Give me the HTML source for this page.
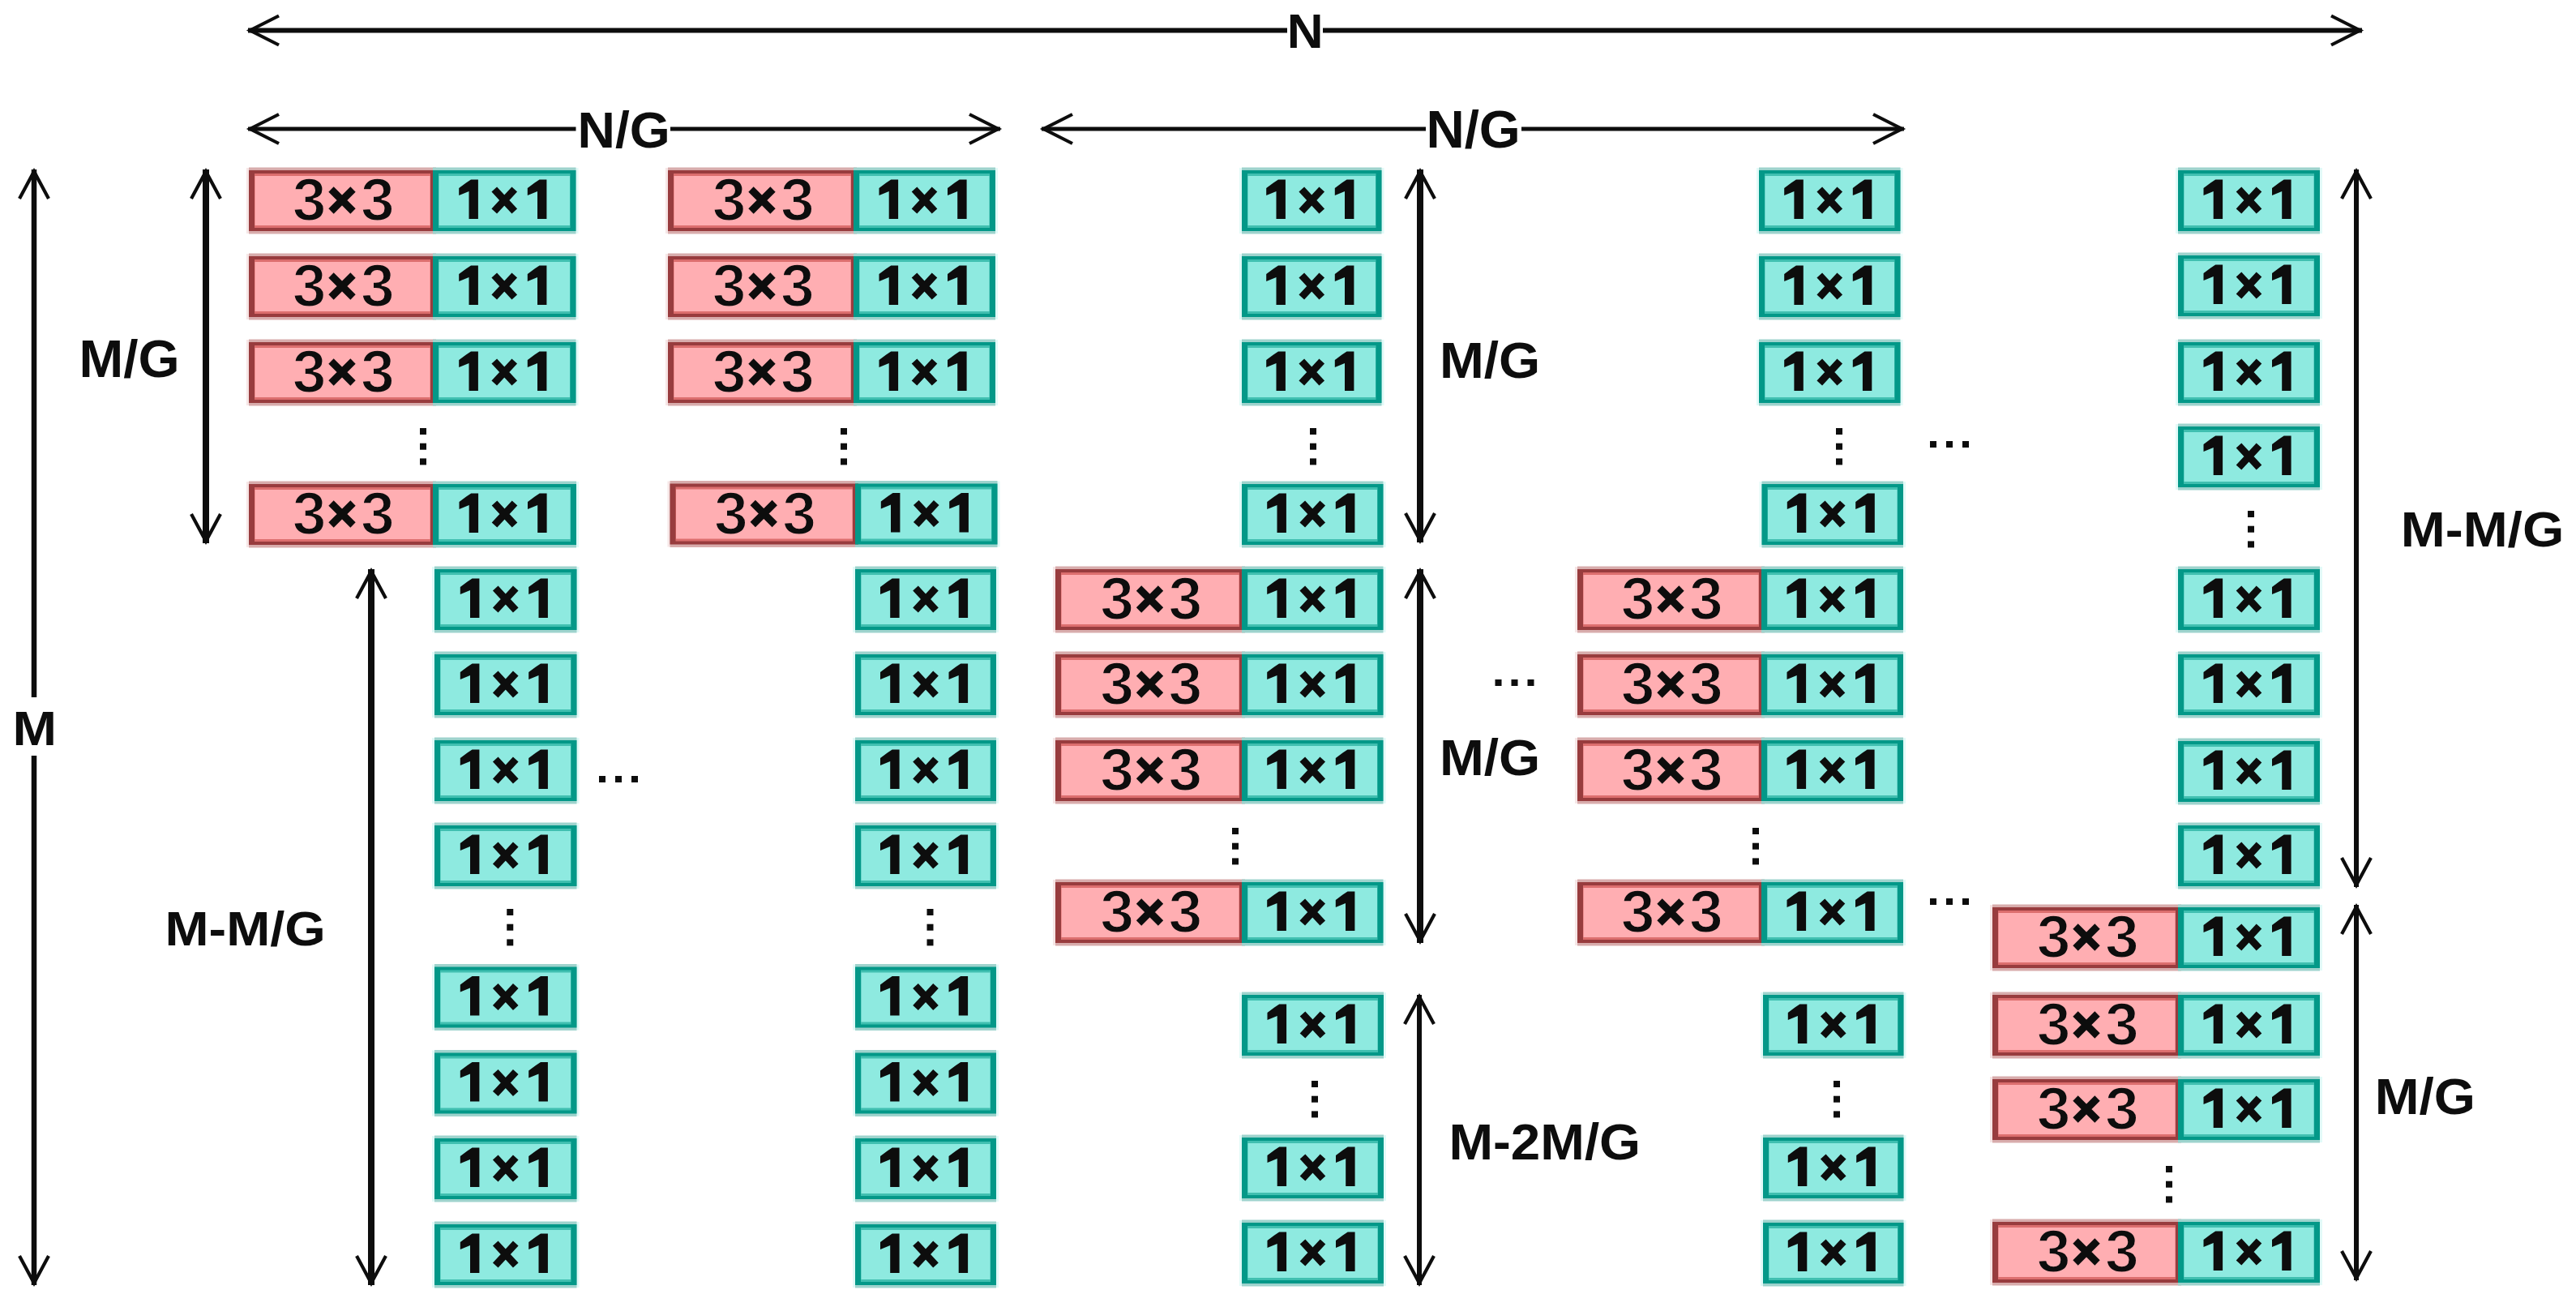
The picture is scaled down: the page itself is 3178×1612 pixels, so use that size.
<!DOCTYPE html>
<html><head><meta charset="utf-8"><style>
html,body{margin:0;padding:0;background:#fff;width:3178px;height:1612px;overflow:hidden}
svg{display:block}
.t{font-family:"Liberation Sans",sans-serif;font-weight:bold}
</style></head><body>
<svg width="3178" height="1612" viewBox="0 0 3178 1612">
<rect width="3178" height="1612" fill="#fff"/>
<rect x="304" y="207" width="237" height="81" fill="#F6E6E6"/>
<rect x="531" y="207" width="182.5" height="81" fill="#E2FAF8"/>
<rect x="304" y="313" width="237" height="81" fill="#F6E6E6"/>
<rect x="531" y="313" width="182.5" height="81" fill="#E2FAF8"/>
<rect x="304" y="419" width="237" height="81" fill="#F6E6E6"/>
<rect x="531" y="419" width="182.5" height="81" fill="#E2FAF8"/>
<rect x="304" y="594" width="237" height="81" fill="#F6E6E6"/>
<rect x="531" y="594" width="183" height="81" fill="#E2FAF8"/>
<rect x="533" y="699" width="181.5" height="81" fill="#E2FAF8"/>
<rect x="533" y="804" width="181.5" height="81" fill="#E2FAF8"/>
<rect x="533" y="910" width="181.5" height="81" fill="#E2FAF8"/>
<rect x="533" y="1015" width="181.5" height="81" fill="#E2FAF8"/>
<rect x="533" y="1189.5" width="181.5" height="81" fill="#E2FAF8"/>
<rect x="533" y="1295.5" width="181.5" height="81" fill="#E2FAF8"/>
<rect x="533" y="1401" width="181.5" height="81" fill="#E2FAF8"/>
<rect x="533" y="1507" width="181.5" height="81" fill="#E2FAF8"/>
<rect x="821" y="207" width="239" height="81" fill="#F6E6E6"/>
<rect x="1050" y="207" width="181" height="81" fill="#E2FAF8"/>
<rect x="821" y="313" width="239" height="81" fill="#F6E6E6"/>
<rect x="1050" y="313" width="181" height="81" fill="#E2FAF8"/>
<rect x="821" y="419" width="239" height="81" fill="#F6E6E6"/>
<rect x="1050" y="419" width="181" height="81" fill="#E2FAF8"/>
<rect x="823.5" y="593.5" width="238.5" height="81" fill="#F6E6E6"/>
<rect x="1052" y="593.5" width="181.5" height="81" fill="#E2FAF8"/>
<rect x="1052" y="699" width="180" height="81" fill="#E2FAF8"/>
<rect x="1052" y="804" width="180" height="81" fill="#E2FAF8"/>
<rect x="1052" y="910" width="180" height="81" fill="#E2FAF8"/>
<rect x="1052" y="1015" width="180" height="81" fill="#E2FAF8"/>
<rect x="1052" y="1189.5" width="180" height="81" fill="#E2FAF8"/>
<rect x="1052" y="1295.5" width="180" height="81" fill="#E2FAF8"/>
<rect x="1052" y="1401" width="180" height="81" fill="#E2FAF8"/>
<rect x="1052" y="1507" width="180" height="81" fill="#E2FAF8"/>
<rect x="1529" y="207" width="178.5" height="81" fill="#E2FAF8"/>
<rect x="1529" y="313" width="178.5" height="81" fill="#E2FAF8"/>
<rect x="1529" y="419" width="178.5" height="81" fill="#E2FAF8"/>
<rect x="1529" y="594" width="180.5" height="81" fill="#E2FAF8"/>
<rect x="1299" y="699" width="240" height="81" fill="#F6E6E6"/>
<rect x="1529" y="699" width="180.5" height="81" fill="#E2FAF8"/>
<rect x="1299" y="804" width="240" height="81" fill="#F6E6E6"/>
<rect x="1529" y="804" width="180.5" height="81" fill="#E2FAF8"/>
<rect x="1299" y="910" width="240" height="81" fill="#F6E6E6"/>
<rect x="1529" y="910" width="180.5" height="81" fill="#E2FAF8"/>
<rect x="1299" y="1085" width="240" height="81" fill="#F6E6E6"/>
<rect x="1529" y="1085" width="180.5" height="81" fill="#E2FAF8"/>
<rect x="1529" y="1224" width="181" height="81" fill="#E2FAF8"/>
<rect x="1529" y="1400" width="181" height="81" fill="#E2FAF8"/>
<rect x="1529" y="1505" width="181" height="81" fill="#E2FAF8"/>
<rect x="2167" y="207" width="180.5" height="81" fill="#E2FAF8"/>
<rect x="2167" y="313" width="180.5" height="81" fill="#E2FAF8"/>
<rect x="2167" y="419" width="180.5" height="81" fill="#E2FAF8"/>
<rect x="2170.5" y="594" width="180.5" height="81" fill="#E2FAF8"/>
<rect x="1943" y="699" width="237" height="81" fill="#F6E6E6"/>
<rect x="2170" y="699" width="181" height="81" fill="#E2FAF8"/>
<rect x="1943" y="804" width="237" height="81" fill="#F6E6E6"/>
<rect x="2170" y="804" width="181" height="81" fill="#E2FAF8"/>
<rect x="1943" y="910" width="237" height="81" fill="#F6E6E6"/>
<rect x="2170" y="910" width="181" height="81" fill="#E2FAF8"/>
<rect x="1943" y="1085" width="237" height="81" fill="#F6E6E6"/>
<rect x="2170" y="1085" width="181" height="81" fill="#E2FAF8"/>
<rect x="2172" y="1224" width="179.5" height="81" fill="#E2FAF8"/>
<rect x="2172" y="1400" width="179.5" height="81" fill="#E2FAF8"/>
<rect x="2172" y="1505" width="179.5" height="81" fill="#E2FAF8"/>
<rect x="2684" y="207" width="181" height="81" fill="#E2FAF8"/>
<rect x="2684" y="312" width="181" height="81" fill="#E2FAF8"/>
<rect x="2684" y="419" width="181" height="81" fill="#E2FAF8"/>
<rect x="2684" y="523" width="181" height="81" fill="#E2FAF8"/>
<rect x="2684" y="699" width="181" height="81" fill="#E2FAF8"/>
<rect x="2684" y="804" width="181" height="81" fill="#E2FAF8"/>
<rect x="2684" y="911" width="181" height="81" fill="#E2FAF8"/>
<rect x="2684" y="1015" width="181" height="81" fill="#E2FAF8"/>
<rect x="2455" y="1116" width="239" height="81" fill="#F6E6E6"/>
<rect x="2684" y="1116" width="181" height="81" fill="#E2FAF8"/>
<rect x="2455" y="1224" width="239" height="81" fill="#F6E6E6"/>
<rect x="2684" y="1224" width="181" height="81" fill="#E2FAF8"/>
<rect x="2455" y="1328" width="239" height="81" fill="#F6E6E6"/>
<rect x="2684" y="1328" width="181" height="81" fill="#E2FAF8"/>
<rect x="2455" y="1504" width="239" height="81" fill="#F6E6E6"/>
<rect x="2684" y="1504" width="181" height="81" fill="#E2FAF8"/>
<rect x="307" y="206.5" width="231" height="82" fill="#D8ACAC"/>
<rect x="534" y="206.5" width="176.5" height="82" fill="#9ED3CD"/>
<rect x="307" y="312.5" width="231" height="82" fill="#D8ACAC"/>
<rect x="534" y="312.5" width="176.5" height="82" fill="#9ED3CD"/>
<rect x="307" y="418.5" width="231" height="82" fill="#D8ACAC"/>
<rect x="534" y="418.5" width="176.5" height="82" fill="#9ED3CD"/>
<rect x="307" y="593.5" width="231" height="82" fill="#D8ACAC"/>
<rect x="534" y="593.5" width="177" height="82" fill="#9ED3CD"/>
<rect x="536" y="698.5" width="175.5" height="82" fill="#9ED3CD"/>
<rect x="536" y="803.5" width="175.5" height="82" fill="#9ED3CD"/>
<rect x="536" y="909.5" width="175.5" height="82" fill="#9ED3CD"/>
<rect x="536" y="1014.5" width="175.5" height="82" fill="#9ED3CD"/>
<rect x="536" y="1189.0" width="175.5" height="82" fill="#9ED3CD"/>
<rect x="536" y="1295.0" width="175.5" height="82" fill="#9ED3CD"/>
<rect x="536" y="1400.5" width="175.5" height="82" fill="#9ED3CD"/>
<rect x="536" y="1506.5" width="175.5" height="82" fill="#9ED3CD"/>
<rect x="824" y="206.5" width="233" height="82" fill="#D8ACAC"/>
<rect x="1053" y="206.5" width="175" height="82" fill="#9ED3CD"/>
<rect x="824" y="312.5" width="233" height="82" fill="#D8ACAC"/>
<rect x="1053" y="312.5" width="175" height="82" fill="#9ED3CD"/>
<rect x="824" y="418.5" width="233" height="82" fill="#D8ACAC"/>
<rect x="1053" y="418.5" width="175" height="82" fill="#9ED3CD"/>
<rect x="826.5" y="593.0" width="232.5" height="82" fill="#D8ACAC"/>
<rect x="1055" y="593.0" width="175.5" height="82" fill="#9ED3CD"/>
<rect x="1055" y="698.5" width="174" height="82" fill="#9ED3CD"/>
<rect x="1055" y="803.5" width="174" height="82" fill="#9ED3CD"/>
<rect x="1055" y="909.5" width="174" height="82" fill="#9ED3CD"/>
<rect x="1055" y="1014.5" width="174" height="82" fill="#9ED3CD"/>
<rect x="1055" y="1189.0" width="174" height="82" fill="#9ED3CD"/>
<rect x="1055" y="1295.0" width="174" height="82" fill="#9ED3CD"/>
<rect x="1055" y="1400.5" width="174" height="82" fill="#9ED3CD"/>
<rect x="1055" y="1506.5" width="174" height="82" fill="#9ED3CD"/>
<rect x="1532" y="206.5" width="172.5" height="82" fill="#9ED3CD"/>
<rect x="1532" y="312.5" width="172.5" height="82" fill="#9ED3CD"/>
<rect x="1532" y="418.5" width="172.5" height="82" fill="#9ED3CD"/>
<rect x="1532" y="593.5" width="174.5" height="82" fill="#9ED3CD"/>
<rect x="1302" y="698.5" width="234" height="82" fill="#D8ACAC"/>
<rect x="1532" y="698.5" width="174.5" height="82" fill="#9ED3CD"/>
<rect x="1302" y="803.5" width="234" height="82" fill="#D8ACAC"/>
<rect x="1532" y="803.5" width="174.5" height="82" fill="#9ED3CD"/>
<rect x="1302" y="909.5" width="234" height="82" fill="#D8ACAC"/>
<rect x="1532" y="909.5" width="174.5" height="82" fill="#9ED3CD"/>
<rect x="1302" y="1084.5" width="234" height="82" fill="#D8ACAC"/>
<rect x="1532" y="1084.5" width="174.5" height="82" fill="#9ED3CD"/>
<rect x="1532" y="1223.5" width="175" height="82" fill="#9ED3CD"/>
<rect x="1532" y="1399.5" width="175" height="82" fill="#9ED3CD"/>
<rect x="1532" y="1504.5" width="175" height="82" fill="#9ED3CD"/>
<rect x="2170" y="206.5" width="174.5" height="82" fill="#9ED3CD"/>
<rect x="2170" y="312.5" width="174.5" height="82" fill="#9ED3CD"/>
<rect x="2170" y="418.5" width="174.5" height="82" fill="#9ED3CD"/>
<rect x="2173.5" y="593.5" width="174.5" height="82" fill="#9ED3CD"/>
<rect x="1946" y="698.5" width="231" height="82" fill="#D8ACAC"/>
<rect x="2173" y="698.5" width="175" height="82" fill="#9ED3CD"/>
<rect x="1946" y="803.5" width="231" height="82" fill="#D8ACAC"/>
<rect x="2173" y="803.5" width="175" height="82" fill="#9ED3CD"/>
<rect x="1946" y="909.5" width="231" height="82" fill="#D8ACAC"/>
<rect x="2173" y="909.5" width="175" height="82" fill="#9ED3CD"/>
<rect x="1946" y="1084.5" width="231" height="82" fill="#D8ACAC"/>
<rect x="2173" y="1084.5" width="175" height="82" fill="#9ED3CD"/>
<rect x="2175" y="1223.5" width="173.5" height="82" fill="#9ED3CD"/>
<rect x="2175" y="1399.5" width="173.5" height="82" fill="#9ED3CD"/>
<rect x="2175" y="1504.5" width="173.5" height="82" fill="#9ED3CD"/>
<rect x="2687" y="206.5" width="175" height="82" fill="#9ED3CD"/>
<rect x="2687" y="311.5" width="175" height="82" fill="#9ED3CD"/>
<rect x="2687" y="418.5" width="175" height="82" fill="#9ED3CD"/>
<rect x="2687" y="522.5" width="175" height="82" fill="#9ED3CD"/>
<rect x="2687" y="698.5" width="175" height="82" fill="#9ED3CD"/>
<rect x="2687" y="803.5" width="175" height="82" fill="#9ED3CD"/>
<rect x="2687" y="910.5" width="175" height="82" fill="#9ED3CD"/>
<rect x="2687" y="1014.5" width="175" height="82" fill="#9ED3CD"/>
<rect x="2458" y="1115.5" width="233" height="82" fill="#D8ACAC"/>
<rect x="2687" y="1115.5" width="175" height="82" fill="#9ED3CD"/>
<rect x="2458" y="1223.5" width="233" height="82" fill="#D8ACAC"/>
<rect x="2687" y="1223.5" width="175" height="82" fill="#9ED3CD"/>
<rect x="2458" y="1327.5" width="233" height="82" fill="#D8ACAC"/>
<rect x="2687" y="1327.5" width="175" height="82" fill="#9ED3CD"/>
<rect x="2458" y="1503.5" width="233" height="82" fill="#D8ACAC"/>
<rect x="2687" y="1503.5" width="175" height="82" fill="#9ED3CD"/>
<rect x="307" y="210" width="231" height="75" fill="#983C3E"/>
<rect x="314" y="214" width="217" height="67" fill="#DC6E6E"/>
<rect x="314.5" y="217" width="216" height="61" fill="#FFAEB2"/>
<rect x="307" y="316" width="231" height="75" fill="#983C3E"/>
<rect x="314" y="320" width="217" height="67" fill="#DC6E6E"/>
<rect x="314.5" y="323" width="216" height="61" fill="#FFAEB2"/>
<rect x="307" y="422" width="231" height="75" fill="#983C3E"/>
<rect x="314" y="426" width="217" height="67" fill="#DC6E6E"/>
<rect x="314.5" y="429" width="216" height="61" fill="#FFAEB2"/>
<rect x="307" y="597" width="231" height="75" fill="#983C3E"/>
<rect x="314" y="601" width="217" height="67" fill="#DC6E6E"/>
<rect x="314.5" y="604" width="216" height="61" fill="#FFAEB2"/>
<rect x="824" y="210" width="233" height="75" fill="#983C3E"/>
<rect x="831" y="214" width="219" height="67" fill="#DC6E6E"/>
<rect x="831.5" y="217" width="218" height="61" fill="#FFAEB2"/>
<rect x="824" y="316" width="233" height="75" fill="#983C3E"/>
<rect x="831" y="320" width="219" height="67" fill="#DC6E6E"/>
<rect x="831.5" y="323" width="218" height="61" fill="#FFAEB2"/>
<rect x="824" y="422" width="233" height="75" fill="#983C3E"/>
<rect x="831" y="426" width="219" height="67" fill="#DC6E6E"/>
<rect x="831.5" y="429" width="218" height="61" fill="#FFAEB2"/>
<rect x="826.5" y="596.5" width="232.5" height="75" fill="#983C3E"/>
<rect x="833.5" y="600.5" width="218.5" height="67" fill="#DC6E6E"/>
<rect x="834.0" y="603.5" width="217.5" height="61" fill="#FFAEB2"/>
<rect x="1302" y="702" width="234" height="75" fill="#983C3E"/>
<rect x="1309" y="706" width="220" height="67" fill="#DC6E6E"/>
<rect x="1309.5" y="709" width="219" height="61" fill="#FFAEB2"/>
<rect x="1302" y="807" width="234" height="75" fill="#983C3E"/>
<rect x="1309" y="811" width="220" height="67" fill="#DC6E6E"/>
<rect x="1309.5" y="814" width="219" height="61" fill="#FFAEB2"/>
<rect x="1302" y="913" width="234" height="75" fill="#983C3E"/>
<rect x="1309" y="917" width="220" height="67" fill="#DC6E6E"/>
<rect x="1309.5" y="920" width="219" height="61" fill="#FFAEB2"/>
<rect x="1302" y="1088" width="234" height="75" fill="#983C3E"/>
<rect x="1309" y="1092" width="220" height="67" fill="#DC6E6E"/>
<rect x="1309.5" y="1095" width="219" height="61" fill="#FFAEB2"/>
<rect x="1946" y="702" width="231" height="75" fill="#983C3E"/>
<rect x="1953" y="706" width="217" height="67" fill="#DC6E6E"/>
<rect x="1953.5" y="709" width="216" height="61" fill="#FFAEB2"/>
<rect x="1946" y="807" width="231" height="75" fill="#983C3E"/>
<rect x="1953" y="811" width="217" height="67" fill="#DC6E6E"/>
<rect x="1953.5" y="814" width="216" height="61" fill="#FFAEB2"/>
<rect x="1946" y="913" width="231" height="75" fill="#983C3E"/>
<rect x="1953" y="917" width="217" height="67" fill="#DC6E6E"/>
<rect x="1953.5" y="920" width="216" height="61" fill="#FFAEB2"/>
<rect x="1946" y="1088" width="231" height="75" fill="#983C3E"/>
<rect x="1953" y="1092" width="217" height="67" fill="#DC6E6E"/>
<rect x="1953.5" y="1095" width="216" height="61" fill="#FFAEB2"/>
<rect x="2458" y="1119" width="233" height="75" fill="#983C3E"/>
<rect x="2465" y="1123" width="219" height="67" fill="#DC6E6E"/>
<rect x="2465.5" y="1126" width="218" height="61" fill="#FFAEB2"/>
<rect x="2458" y="1227" width="233" height="75" fill="#983C3E"/>
<rect x="2465" y="1231" width="219" height="67" fill="#DC6E6E"/>
<rect x="2465.5" y="1234" width="218" height="61" fill="#FFAEB2"/>
<rect x="2458" y="1331" width="233" height="75" fill="#983C3E"/>
<rect x="2465" y="1335" width="219" height="67" fill="#DC6E6E"/>
<rect x="2465.5" y="1338" width="218" height="61" fill="#FFAEB2"/>
<rect x="2458" y="1507" width="233" height="75" fill="#983C3E"/>
<rect x="2465" y="1511" width="219" height="67" fill="#DC6E6E"/>
<rect x="2465.5" y="1514" width="218" height="61" fill="#FFAEB2"/>
<rect x="534" y="210" width="176.5" height="75" fill="#039888"/>
<rect x="541" y="214" width="162.5" height="67" fill="#40BFB0"/>
<rect x="541.5" y="217" width="161.5" height="61" fill="#8EEAE0"/>
<rect x="534" y="316" width="176.5" height="75" fill="#039888"/>
<rect x="541" y="320" width="162.5" height="67" fill="#40BFB0"/>
<rect x="541.5" y="323" width="161.5" height="61" fill="#8EEAE0"/>
<rect x="534" y="422" width="176.5" height="75" fill="#039888"/>
<rect x="541" y="426" width="162.5" height="67" fill="#40BFB0"/>
<rect x="541.5" y="429" width="161.5" height="61" fill="#8EEAE0"/>
<rect x="534" y="597" width="177" height="75" fill="#039888"/>
<rect x="541" y="601" width="163" height="67" fill="#40BFB0"/>
<rect x="541.5" y="604" width="162" height="61" fill="#8EEAE0"/>
<rect x="536" y="702" width="175.5" height="75" fill="#039888"/>
<rect x="543" y="706" width="161.5" height="67" fill="#40BFB0"/>
<rect x="543.5" y="709" width="160.5" height="61" fill="#8EEAE0"/>
<rect x="536" y="807" width="175.5" height="75" fill="#039888"/>
<rect x="543" y="811" width="161.5" height="67" fill="#40BFB0"/>
<rect x="543.5" y="814" width="160.5" height="61" fill="#8EEAE0"/>
<rect x="536" y="913" width="175.5" height="75" fill="#039888"/>
<rect x="543" y="917" width="161.5" height="67" fill="#40BFB0"/>
<rect x="543.5" y="920" width="160.5" height="61" fill="#8EEAE0"/>
<rect x="536" y="1018" width="175.5" height="75" fill="#039888"/>
<rect x="543" y="1022" width="161.5" height="67" fill="#40BFB0"/>
<rect x="543.5" y="1025" width="160.5" height="61" fill="#8EEAE0"/>
<rect x="536" y="1192.5" width="175.5" height="75" fill="#039888"/>
<rect x="543" y="1196.5" width="161.5" height="67" fill="#40BFB0"/>
<rect x="543.5" y="1199.5" width="160.5" height="61" fill="#8EEAE0"/>
<rect x="536" y="1298.5" width="175.5" height="75" fill="#039888"/>
<rect x="543" y="1302.5" width="161.5" height="67" fill="#40BFB0"/>
<rect x="543.5" y="1305.5" width="160.5" height="61" fill="#8EEAE0"/>
<rect x="536" y="1404" width="175.5" height="75" fill="#039888"/>
<rect x="543" y="1408" width="161.5" height="67" fill="#40BFB0"/>
<rect x="543.5" y="1411" width="160.5" height="61" fill="#8EEAE0"/>
<rect x="536" y="1510" width="175.5" height="75" fill="#039888"/>
<rect x="543" y="1514" width="161.5" height="67" fill="#40BFB0"/>
<rect x="543.5" y="1517" width="160.5" height="61" fill="#8EEAE0"/>
<rect x="1053" y="210" width="175" height="75" fill="#039888"/>
<rect x="1060" y="214" width="161" height="67" fill="#40BFB0"/>
<rect x="1060.5" y="217" width="160" height="61" fill="#8EEAE0"/>
<rect x="1053" y="316" width="175" height="75" fill="#039888"/>
<rect x="1060" y="320" width="161" height="67" fill="#40BFB0"/>
<rect x="1060.5" y="323" width="160" height="61" fill="#8EEAE0"/>
<rect x="1053" y="422" width="175" height="75" fill="#039888"/>
<rect x="1060" y="426" width="161" height="67" fill="#40BFB0"/>
<rect x="1060.5" y="429" width="160" height="61" fill="#8EEAE0"/>
<rect x="1055" y="596.5" width="175.5" height="75" fill="#039888"/>
<rect x="1062" y="600.5" width="161.5" height="67" fill="#40BFB0"/>
<rect x="1062.5" y="603.5" width="160.5" height="61" fill="#8EEAE0"/>
<rect x="1055" y="702" width="174" height="75" fill="#039888"/>
<rect x="1062" y="706" width="160" height="67" fill="#40BFB0"/>
<rect x="1062.5" y="709" width="159" height="61" fill="#8EEAE0"/>
<rect x="1055" y="807" width="174" height="75" fill="#039888"/>
<rect x="1062" y="811" width="160" height="67" fill="#40BFB0"/>
<rect x="1062.5" y="814" width="159" height="61" fill="#8EEAE0"/>
<rect x="1055" y="913" width="174" height="75" fill="#039888"/>
<rect x="1062" y="917" width="160" height="67" fill="#40BFB0"/>
<rect x="1062.5" y="920" width="159" height="61" fill="#8EEAE0"/>
<rect x="1055" y="1018" width="174" height="75" fill="#039888"/>
<rect x="1062" y="1022" width="160" height="67" fill="#40BFB0"/>
<rect x="1062.5" y="1025" width="159" height="61" fill="#8EEAE0"/>
<rect x="1055" y="1192.5" width="174" height="75" fill="#039888"/>
<rect x="1062" y="1196.5" width="160" height="67" fill="#40BFB0"/>
<rect x="1062.5" y="1199.5" width="159" height="61" fill="#8EEAE0"/>
<rect x="1055" y="1298.5" width="174" height="75" fill="#039888"/>
<rect x="1062" y="1302.5" width="160" height="67" fill="#40BFB0"/>
<rect x="1062.5" y="1305.5" width="159" height="61" fill="#8EEAE0"/>
<rect x="1055" y="1404" width="174" height="75" fill="#039888"/>
<rect x="1062" y="1408" width="160" height="67" fill="#40BFB0"/>
<rect x="1062.5" y="1411" width="159" height="61" fill="#8EEAE0"/>
<rect x="1055" y="1510" width="174" height="75" fill="#039888"/>
<rect x="1062" y="1514" width="160" height="67" fill="#40BFB0"/>
<rect x="1062.5" y="1517" width="159" height="61" fill="#8EEAE0"/>
<rect x="1532" y="210" width="172.5" height="75" fill="#039888"/>
<rect x="1539" y="214" width="158.5" height="67" fill="#40BFB0"/>
<rect x="1539.5" y="217" width="157.5" height="61" fill="#8EEAE0"/>
<rect x="1532" y="316" width="172.5" height="75" fill="#039888"/>
<rect x="1539" y="320" width="158.5" height="67" fill="#40BFB0"/>
<rect x="1539.5" y="323" width="157.5" height="61" fill="#8EEAE0"/>
<rect x="1532" y="422" width="172.5" height="75" fill="#039888"/>
<rect x="1539" y="426" width="158.5" height="67" fill="#40BFB0"/>
<rect x="1539.5" y="429" width="157.5" height="61" fill="#8EEAE0"/>
<rect x="1532" y="597" width="174.5" height="75" fill="#039888"/>
<rect x="1539" y="601" width="160.5" height="67" fill="#40BFB0"/>
<rect x="1539.5" y="604" width="159.5" height="61" fill="#8EEAE0"/>
<rect x="1532" y="702" width="174.5" height="75" fill="#039888"/>
<rect x="1539" y="706" width="160.5" height="67" fill="#40BFB0"/>
<rect x="1539.5" y="709" width="159.5" height="61" fill="#8EEAE0"/>
<rect x="1532" y="807" width="174.5" height="75" fill="#039888"/>
<rect x="1539" y="811" width="160.5" height="67" fill="#40BFB0"/>
<rect x="1539.5" y="814" width="159.5" height="61" fill="#8EEAE0"/>
<rect x="1532" y="913" width="174.5" height="75" fill="#039888"/>
<rect x="1539" y="917" width="160.5" height="67" fill="#40BFB0"/>
<rect x="1539.5" y="920" width="159.5" height="61" fill="#8EEAE0"/>
<rect x="1532" y="1088" width="174.5" height="75" fill="#039888"/>
<rect x="1539" y="1092" width="160.5" height="67" fill="#40BFB0"/>
<rect x="1539.5" y="1095" width="159.5" height="61" fill="#8EEAE0"/>
<rect x="1532" y="1227" width="175" height="75" fill="#039888"/>
<rect x="1539" y="1231" width="161" height="67" fill="#40BFB0"/>
<rect x="1539.5" y="1234" width="160" height="61" fill="#8EEAE0"/>
<rect x="1532" y="1403" width="175" height="75" fill="#039888"/>
<rect x="1539" y="1407" width="161" height="67" fill="#40BFB0"/>
<rect x="1539.5" y="1410" width="160" height="61" fill="#8EEAE0"/>
<rect x="1532" y="1508" width="175" height="75" fill="#039888"/>
<rect x="1539" y="1512" width="161" height="67" fill="#40BFB0"/>
<rect x="1539.5" y="1515" width="160" height="61" fill="#8EEAE0"/>
<rect x="2170" y="210" width="174.5" height="75" fill="#039888"/>
<rect x="2177" y="214" width="160.5" height="67" fill="#40BFB0"/>
<rect x="2177.5" y="217" width="159.5" height="61" fill="#8EEAE0"/>
<rect x="2170" y="316" width="174.5" height="75" fill="#039888"/>
<rect x="2177" y="320" width="160.5" height="67" fill="#40BFB0"/>
<rect x="2177.5" y="323" width="159.5" height="61" fill="#8EEAE0"/>
<rect x="2170" y="422" width="174.5" height="75" fill="#039888"/>
<rect x="2177" y="426" width="160.5" height="67" fill="#40BFB0"/>
<rect x="2177.5" y="429" width="159.5" height="61" fill="#8EEAE0"/>
<rect x="2173.5" y="597" width="174.5" height="75" fill="#039888"/>
<rect x="2180.5" y="601" width="160.5" height="67" fill="#40BFB0"/>
<rect x="2181.0" y="604" width="159.5" height="61" fill="#8EEAE0"/>
<rect x="2173" y="702" width="175" height="75" fill="#039888"/>
<rect x="2180" y="706" width="161" height="67" fill="#40BFB0"/>
<rect x="2180.5" y="709" width="160" height="61" fill="#8EEAE0"/>
<rect x="2173" y="807" width="175" height="75" fill="#039888"/>
<rect x="2180" y="811" width="161" height="67" fill="#40BFB0"/>
<rect x="2180.5" y="814" width="160" height="61" fill="#8EEAE0"/>
<rect x="2173" y="913" width="175" height="75" fill="#039888"/>
<rect x="2180" y="917" width="161" height="67" fill="#40BFB0"/>
<rect x="2180.5" y="920" width="160" height="61" fill="#8EEAE0"/>
<rect x="2173" y="1088" width="175" height="75" fill="#039888"/>
<rect x="2180" y="1092" width="161" height="67" fill="#40BFB0"/>
<rect x="2180.5" y="1095" width="160" height="61" fill="#8EEAE0"/>
<rect x="2175" y="1227" width="173.5" height="75" fill="#039888"/>
<rect x="2182" y="1231" width="159.5" height="67" fill="#40BFB0"/>
<rect x="2182.5" y="1234" width="158.5" height="61" fill="#8EEAE0"/>
<rect x="2175" y="1403" width="173.5" height="75" fill="#039888"/>
<rect x="2182" y="1407" width="159.5" height="67" fill="#40BFB0"/>
<rect x="2182.5" y="1410" width="158.5" height="61" fill="#8EEAE0"/>
<rect x="2175" y="1508" width="173.5" height="75" fill="#039888"/>
<rect x="2182" y="1512" width="159.5" height="67" fill="#40BFB0"/>
<rect x="2182.5" y="1515" width="158.5" height="61" fill="#8EEAE0"/>
<rect x="2687" y="210" width="175" height="75" fill="#039888"/>
<rect x="2694" y="214" width="161" height="67" fill="#40BFB0"/>
<rect x="2694.5" y="217" width="160" height="61" fill="#8EEAE0"/>
<rect x="2687" y="315" width="175" height="75" fill="#039888"/>
<rect x="2694" y="319" width="161" height="67" fill="#40BFB0"/>
<rect x="2694.5" y="322" width="160" height="61" fill="#8EEAE0"/>
<rect x="2687" y="422" width="175" height="75" fill="#039888"/>
<rect x="2694" y="426" width="161" height="67" fill="#40BFB0"/>
<rect x="2694.5" y="429" width="160" height="61" fill="#8EEAE0"/>
<rect x="2687" y="526" width="175" height="75" fill="#039888"/>
<rect x="2694" y="530" width="161" height="67" fill="#40BFB0"/>
<rect x="2694.5" y="533" width="160" height="61" fill="#8EEAE0"/>
<rect x="2687" y="702" width="175" height="75" fill="#039888"/>
<rect x="2694" y="706" width="161" height="67" fill="#40BFB0"/>
<rect x="2694.5" y="709" width="160" height="61" fill="#8EEAE0"/>
<rect x="2687" y="807" width="175" height="75" fill="#039888"/>
<rect x="2694" y="811" width="161" height="67" fill="#40BFB0"/>
<rect x="2694.5" y="814" width="160" height="61" fill="#8EEAE0"/>
<rect x="2687" y="914" width="175" height="75" fill="#039888"/>
<rect x="2694" y="918" width="161" height="67" fill="#40BFB0"/>
<rect x="2694.5" y="921" width="160" height="61" fill="#8EEAE0"/>
<rect x="2687" y="1018" width="175" height="75" fill="#039888"/>
<rect x="2694" y="1022" width="161" height="67" fill="#40BFB0"/>
<rect x="2694.5" y="1025" width="160" height="61" fill="#8EEAE0"/>
<rect x="2687" y="1119" width="175" height="75" fill="#039888"/>
<rect x="2694" y="1123" width="161" height="67" fill="#40BFB0"/>
<rect x="2694.5" y="1126" width="160" height="61" fill="#8EEAE0"/>
<rect x="2687" y="1227" width="175" height="75" fill="#039888"/>
<rect x="2694" y="1231" width="161" height="67" fill="#40BFB0"/>
<rect x="2694.5" y="1234" width="160" height="61" fill="#8EEAE0"/>
<rect x="2687" y="1331" width="175" height="75" fill="#039888"/>
<rect x="2694" y="1335" width="161" height="67" fill="#40BFB0"/>
<rect x="2694.5" y="1338" width="160" height="61" fill="#8EEAE0"/>
<rect x="2687" y="1507" width="175" height="75" fill="#039888"/>
<rect x="2694" y="1511" width="161" height="67" fill="#40BFB0"/>
<rect x="2694.5" y="1514" width="160" height="61" fill="#8EEAE0"/>
<g fill="#0d0d0d">
<text x="381.5" y="272.0" font-size="75" text-anchor="middle" class="t" stroke="#FFAEB2" stroke-width="2">3</text>
<text x="465.8" y="272.0" font-size="75" text-anchor="middle" class="t" stroke="#FFAEB2" stroke-width="2">3</text>
<path d="M408.5,233.5L435.5,260.5M435.5,233.5L408.5,260.5" stroke="#0d0d0d" stroke-width="9" fill="none"/>
<path d="M609.75,233.5L634.75,260.5M634.75,233.5L609.75,260.5" stroke="#0d0d0d" stroke-width="9" fill="none"/>
<polygon points="581.0,221.5 589.9,221.5 589.9,270.0 578.5,270.0 578.5,236.0 566.2,241.0 566.2,232.0 575.0,225.5"/>
<polygon points="665.5,221.5 674.4,221.5 674.4,270.0 663.0,270.0 663.0,236.0 650.8,241.0 650.8,232.0 659.5,225.5"/>
<text x="381.5" y="378.0" font-size="75" text-anchor="middle" class="t" stroke="#FFAEB2" stroke-width="2">3</text>
<text x="465.8" y="378.0" font-size="75" text-anchor="middle" class="t" stroke="#FFAEB2" stroke-width="2">3</text>
<path d="M408.5,339.5L435.5,366.5M435.5,339.5L408.5,366.5" stroke="#0d0d0d" stroke-width="9" fill="none"/>
<path d="M609.75,339.5L634.75,366.5M634.75,339.5L609.75,366.5" stroke="#0d0d0d" stroke-width="9" fill="none"/>
<polygon points="581.0,327.5 589.9,327.5 589.9,376.0 578.5,376.0 578.5,342.0 566.2,347.0 566.2,338.0 575.0,331.5"/>
<polygon points="665.5,327.5 674.4,327.5 674.4,376.0 663.0,376.0 663.0,342.0 650.8,347.0 650.8,338.0 659.5,331.5"/>
<text x="381.5" y="484.0" font-size="75" text-anchor="middle" class="t" stroke="#FFAEB2" stroke-width="2">3</text>
<text x="465.8" y="484.0" font-size="75" text-anchor="middle" class="t" stroke="#FFAEB2" stroke-width="2">3</text>
<path d="M408.5,445.5L435.5,472.5M435.5,445.5L408.5,472.5" stroke="#0d0d0d" stroke-width="9" fill="none"/>
<path d="M609.75,445.5L634.75,472.5M634.75,445.5L609.75,472.5" stroke="#0d0d0d" stroke-width="9" fill="none"/>
<polygon points="581.0,433.5 589.9,433.5 589.9,482.0 578.5,482.0 578.5,448.0 566.2,453.0 566.2,444.0 575.0,437.5"/>
<polygon points="665.5,433.5 674.4,433.5 674.4,482.0 663.0,482.0 663.0,448.0 650.8,453.0 650.8,444.0 659.5,437.5"/>
<text x="381.5" y="659.0" font-size="75" text-anchor="middle" class="t" stroke="#FFAEB2" stroke-width="2">3</text>
<text x="465.8" y="659.0" font-size="75" text-anchor="middle" class="t" stroke="#FFAEB2" stroke-width="2">3</text>
<path d="M408.5,620.5L435.5,647.5M435.5,620.5L408.5,647.5" stroke="#0d0d0d" stroke-width="9" fill="none"/>
<path d="M610.0,620.5L635.0,647.5M635.0,620.5L610.0,647.5" stroke="#0d0d0d" stroke-width="9" fill="none"/>
<polygon points="581.2,608.5 590.1,608.5 590.1,657.0 578.7,657.0 578.7,623.0 566.5,628.0 566.5,619.0 575.2,612.5"/>
<polygon points="665.7,608.5 674.6,608.5 674.6,657.0 663.2,657.0 663.2,623.0 651.0,628.0 651.0,619.0 659.7,612.5"/>
<rect x="518" y="528.0" width="8" height="8"/>
<rect x="518" y="546.7" width="8" height="8"/>
<rect x="518" y="565.4" width="8" height="8"/>
<path d="M611.25,725.5L636.25,752.5M636.25,725.5L611.25,752.5" stroke="#0d0d0d" stroke-width="9" fill="none"/>
<polygon points="582.5,713.5 591.4,713.5 591.4,762.0 580.0,762.0 580.0,728.0 567.8,733.0 567.8,724.0 576.5,717.5"/>
<polygon points="667.0,713.5 675.9,713.5 675.9,762.0 664.5,762.0 664.5,728.0 652.2,733.0 652.2,724.0 661.0,717.5"/>
<path d="M611.25,830.5L636.25,857.5M636.25,830.5L611.25,857.5" stroke="#0d0d0d" stroke-width="9" fill="none"/>
<polygon points="582.5,818.5 591.4,818.5 591.4,867.0 580.0,867.0 580.0,833.0 567.8,838.0 567.8,829.0 576.5,822.5"/>
<polygon points="667.0,818.5 675.9,818.5 675.9,867.0 664.5,867.0 664.5,833.0 652.2,838.0 652.2,829.0 661.0,822.5"/>
<path d="M611.25,936.5L636.25,963.5M636.25,936.5L611.25,963.5" stroke="#0d0d0d" stroke-width="9" fill="none"/>
<polygon points="582.5,924.5 591.4,924.5 591.4,973.0 580.0,973.0 580.0,939.0 567.8,944.0 567.8,935.0 576.5,928.5"/>
<polygon points="667.0,924.5 675.9,924.5 675.9,973.0 664.5,973.0 664.5,939.0 652.2,944.0 652.2,935.0 661.0,928.5"/>
<path d="M611.25,1041.5L636.25,1068.5M636.25,1041.5L611.25,1068.5" stroke="#0d0d0d" stroke-width="9" fill="none"/>
<polygon points="582.5,1029.5 591.4,1029.5 591.4,1078.0 580.0,1078.0 580.0,1044.0 567.8,1049.0 567.8,1040.0 576.5,1033.5"/>
<polygon points="667.0,1029.5 675.9,1029.5 675.9,1078.0 664.5,1078.0 664.5,1044.0 652.2,1049.0 652.2,1040.0 661.0,1033.5"/>
<path d="M611.25,1216.0L636.25,1243.0M636.25,1216.0L611.25,1243.0" stroke="#0d0d0d" stroke-width="9" fill="none"/>
<polygon points="582.5,1204.0 591.4,1204.0 591.4,1252.5 580.0,1252.5 580.0,1218.5 567.8,1223.5 567.8,1214.5 576.5,1208.0"/>
<polygon points="667.0,1204.0 675.9,1204.0 675.9,1252.5 664.5,1252.5 664.5,1218.5 652.2,1223.5 652.2,1214.5 661.0,1208.0"/>
<path d="M611.25,1322.0L636.25,1349.0M636.25,1322.0L611.25,1349.0" stroke="#0d0d0d" stroke-width="9" fill="none"/>
<polygon points="582.5,1310.0 591.4,1310.0 591.4,1358.5 580.0,1358.5 580.0,1324.5 567.8,1329.5 567.8,1320.5 576.5,1314.0"/>
<polygon points="667.0,1310.0 675.9,1310.0 675.9,1358.5 664.5,1358.5 664.5,1324.5 652.2,1329.5 652.2,1320.5 661.0,1314.0"/>
<path d="M611.25,1427.5L636.25,1454.5M636.25,1427.5L611.25,1454.5" stroke="#0d0d0d" stroke-width="9" fill="none"/>
<polygon points="582.5,1415.5 591.4,1415.5 591.4,1464.0 580.0,1464.0 580.0,1430.0 567.8,1435.0 567.8,1426.0 576.5,1419.5"/>
<polygon points="667.0,1415.5 675.9,1415.5 675.9,1464.0 664.5,1464.0 664.5,1430.0 652.2,1435.0 652.2,1426.0 661.0,1419.5"/>
<path d="M611.25,1533.5L636.25,1560.5M636.25,1533.5L611.25,1560.5" stroke="#0d0d0d" stroke-width="9" fill="none"/>
<polygon points="582.5,1521.5 591.4,1521.5 591.4,1570.0 580.0,1570.0 580.0,1536.0 567.8,1541.0 567.8,1532.0 576.5,1525.5"/>
<polygon points="667.0,1521.5 675.9,1521.5 675.9,1570.0 664.5,1570.0 664.5,1536.0 652.2,1541.0 652.2,1532.0 661.0,1525.5"/>
<rect x="625.25" y="1121.0" width="8" height="8"/>
<rect x="625.25" y="1139.7" width="8" height="8"/>
<rect x="625.25" y="1158.4" width="8" height="8"/>
<text x="899.5" y="272.0" font-size="75" text-anchor="middle" class="t" stroke="#FFAEB2" stroke-width="2">3</text>
<text x="983.8" y="272.0" font-size="75" text-anchor="middle" class="t" stroke="#FFAEB2" stroke-width="2">3</text>
<path d="M926.5,233.5L953.5,260.5M953.5,233.5L926.5,260.5" stroke="#0d0d0d" stroke-width="9" fill="none"/>
<path d="M1128.0,233.5L1153.0,260.5M1153.0,233.5L1128.0,260.5" stroke="#0d0d0d" stroke-width="9" fill="none"/>
<polygon points="1099.2,221.5 1108.1,221.5 1108.1,270.0 1096.7,270.0 1096.7,236.0 1084.5,241.0 1084.5,232.0 1093.2,225.5"/>
<polygon points="1183.7,221.5 1192.6,221.5 1192.6,270.0 1181.2,270.0 1181.2,236.0 1169.0,241.0 1169.0,232.0 1177.7,225.5"/>
<text x="899.5" y="378.0" font-size="75" text-anchor="middle" class="t" stroke="#FFAEB2" stroke-width="2">3</text>
<text x="983.8" y="378.0" font-size="75" text-anchor="middle" class="t" stroke="#FFAEB2" stroke-width="2">3</text>
<path d="M926.5,339.5L953.5,366.5M953.5,339.5L926.5,366.5" stroke="#0d0d0d" stroke-width="9" fill="none"/>
<path d="M1128.0,339.5L1153.0,366.5M1153.0,339.5L1128.0,366.5" stroke="#0d0d0d" stroke-width="9" fill="none"/>
<polygon points="1099.2,327.5 1108.1,327.5 1108.1,376.0 1096.7,376.0 1096.7,342.0 1084.5,347.0 1084.5,338.0 1093.2,331.5"/>
<polygon points="1183.7,327.5 1192.6,327.5 1192.6,376.0 1181.2,376.0 1181.2,342.0 1169.0,347.0 1169.0,338.0 1177.7,331.5"/>
<text x="899.5" y="484.0" font-size="75" text-anchor="middle" class="t" stroke="#FFAEB2" stroke-width="2">3</text>
<text x="983.8" y="484.0" font-size="75" text-anchor="middle" class="t" stroke="#FFAEB2" stroke-width="2">3</text>
<path d="M926.5,445.5L953.5,472.5M953.5,445.5L926.5,472.5" stroke="#0d0d0d" stroke-width="9" fill="none"/>
<path d="M1128.0,445.5L1153.0,472.5M1153.0,445.5L1128.0,472.5" stroke="#0d0d0d" stroke-width="9" fill="none"/>
<polygon points="1099.2,433.5 1108.1,433.5 1108.1,482.0 1096.7,482.0 1096.7,448.0 1084.5,453.0 1084.5,444.0 1093.2,437.5"/>
<polygon points="1183.7,433.5 1192.6,433.5 1192.6,482.0 1181.2,482.0 1181.2,448.0 1169.0,453.0 1169.0,444.0 1177.7,437.5"/>
<text x="901.8" y="658.5" font-size="75" text-anchor="middle" class="t" stroke="#FFAEB2" stroke-width="2">3</text>
<text x="986.0" y="658.5" font-size="75" text-anchor="middle" class="t" stroke="#FFAEB2" stroke-width="2">3</text>
<path d="M928.75,620.0L955.75,647.0M955.75,620.0L928.75,647.0" stroke="#0d0d0d" stroke-width="9" fill="none"/>
<path d="M1130.25,620.0L1155.25,647.0M1155.25,620.0L1130.25,647.0" stroke="#0d0d0d" stroke-width="9" fill="none"/>
<polygon points="1101.5,608.0 1110.4,608.0 1110.4,656.5 1099.0,656.5 1099.0,622.5 1086.8,627.5 1086.8,618.5 1095.5,612.0"/>
<polygon points="1186.0,608.0 1194.9,608.0 1194.9,656.5 1183.5,656.5 1183.5,622.5 1171.2,627.5 1171.2,618.5 1180.0,612.0"/>
<rect x="1037" y="528.0" width="8" height="8"/>
<rect x="1037" y="546.7" width="8" height="8"/>
<rect x="1037" y="565.4" width="8" height="8"/>
<path d="M1129.5,725.5L1154.5,752.5M1154.5,725.5L1129.5,752.5" stroke="#0d0d0d" stroke-width="9" fill="none"/>
<polygon points="1100.7,713.5 1109.6,713.5 1109.6,762.0 1098.2,762.0 1098.2,728.0 1086.0,733.0 1086.0,724.0 1094.7,717.5"/>
<polygon points="1185.2,713.5 1194.1,713.5 1194.1,762.0 1182.7,762.0 1182.7,728.0 1170.5,733.0 1170.5,724.0 1179.2,717.5"/>
<path d="M1129.5,830.5L1154.5,857.5M1154.5,830.5L1129.5,857.5" stroke="#0d0d0d" stroke-width="9" fill="none"/>
<polygon points="1100.7,818.5 1109.6,818.5 1109.6,867.0 1098.2,867.0 1098.2,833.0 1086.0,838.0 1086.0,829.0 1094.7,822.5"/>
<polygon points="1185.2,818.5 1194.1,818.5 1194.1,867.0 1182.7,867.0 1182.7,833.0 1170.5,838.0 1170.5,829.0 1179.2,822.5"/>
<path d="M1129.5,936.5L1154.5,963.5M1154.5,936.5L1129.5,963.5" stroke="#0d0d0d" stroke-width="9" fill="none"/>
<polygon points="1100.7,924.5 1109.6,924.5 1109.6,973.0 1098.2,973.0 1098.2,939.0 1086.0,944.0 1086.0,935.0 1094.7,928.5"/>
<polygon points="1185.2,924.5 1194.1,924.5 1194.1,973.0 1182.7,973.0 1182.7,939.0 1170.5,944.0 1170.5,935.0 1179.2,928.5"/>
<path d="M1129.5,1041.5L1154.5,1068.5M1154.5,1041.5L1129.5,1068.5" stroke="#0d0d0d" stroke-width="9" fill="none"/>
<polygon points="1100.7,1029.5 1109.6,1029.5 1109.6,1078.0 1098.2,1078.0 1098.2,1044.0 1086.0,1049.0 1086.0,1040.0 1094.7,1033.5"/>
<polygon points="1185.2,1029.5 1194.1,1029.5 1194.1,1078.0 1182.7,1078.0 1182.7,1044.0 1170.5,1049.0 1170.5,1040.0 1179.2,1033.5"/>
<path d="M1129.5,1216.0L1154.5,1243.0M1154.5,1216.0L1129.5,1243.0" stroke="#0d0d0d" stroke-width="9" fill="none"/>
<polygon points="1100.7,1204.0 1109.6,1204.0 1109.6,1252.5 1098.2,1252.5 1098.2,1218.5 1086.0,1223.5 1086.0,1214.5 1094.7,1208.0"/>
<polygon points="1185.2,1204.0 1194.1,1204.0 1194.1,1252.5 1182.7,1252.5 1182.7,1218.5 1170.5,1223.5 1170.5,1214.5 1179.2,1208.0"/>
<path d="M1129.5,1322.0L1154.5,1349.0M1154.5,1322.0L1129.5,1349.0" stroke="#0d0d0d" stroke-width="9" fill="none"/>
<polygon points="1100.7,1310.0 1109.6,1310.0 1109.6,1358.5 1098.2,1358.5 1098.2,1324.5 1086.0,1329.5 1086.0,1320.5 1094.7,1314.0"/>
<polygon points="1185.2,1310.0 1194.1,1310.0 1194.1,1358.5 1182.7,1358.5 1182.7,1324.5 1170.5,1329.5 1170.5,1320.5 1179.2,1314.0"/>
<path d="M1129.5,1427.5L1154.5,1454.5M1154.5,1427.5L1129.5,1454.5" stroke="#0d0d0d" stroke-width="9" fill="none"/>
<polygon points="1100.7,1415.5 1109.6,1415.5 1109.6,1464.0 1098.2,1464.0 1098.2,1430.0 1086.0,1435.0 1086.0,1426.0 1094.7,1419.5"/>
<polygon points="1185.2,1415.5 1194.1,1415.5 1194.1,1464.0 1182.7,1464.0 1182.7,1430.0 1170.5,1435.0 1170.5,1426.0 1179.2,1419.5"/>
<path d="M1129.5,1533.5L1154.5,1560.5M1154.5,1533.5L1129.5,1560.5" stroke="#0d0d0d" stroke-width="9" fill="none"/>
<polygon points="1100.7,1521.5 1109.6,1521.5 1109.6,1570.0 1098.2,1570.0 1098.2,1536.0 1086.0,1541.0 1086.0,1532.0 1094.7,1525.5"/>
<polygon points="1185.2,1521.5 1194.1,1521.5 1194.1,1570.0 1182.7,1570.0 1182.7,1536.0 1170.5,1541.0 1170.5,1532.0 1179.2,1525.5"/>
<rect x="1143.5" y="1121.0" width="8" height="8"/>
<rect x="1143.5" y="1139.7" width="8" height="8"/>
<rect x="1143.5" y="1158.4" width="8" height="8"/>
<path d="M1605.75,233.5L1630.75,260.5M1630.75,233.5L1605.75,260.5" stroke="#0d0d0d" stroke-width="9" fill="none"/>
<polygon points="1577.0,221.5 1585.9,221.5 1585.9,270.0 1574.5,270.0 1574.5,236.0 1562.2,241.0 1562.2,232.0 1571.0,225.5"/>
<polygon points="1661.5,221.5 1670.4,221.5 1670.4,270.0 1659.0,270.0 1659.0,236.0 1646.8,241.0 1646.8,232.0 1655.5,225.5"/>
<path d="M1605.75,339.5L1630.75,366.5M1630.75,339.5L1605.75,366.5" stroke="#0d0d0d" stroke-width="9" fill="none"/>
<polygon points="1577.0,327.5 1585.9,327.5 1585.9,376.0 1574.5,376.0 1574.5,342.0 1562.2,347.0 1562.2,338.0 1571.0,331.5"/>
<polygon points="1661.5,327.5 1670.4,327.5 1670.4,376.0 1659.0,376.0 1659.0,342.0 1646.8,347.0 1646.8,338.0 1655.5,331.5"/>
<path d="M1605.75,445.5L1630.75,472.5M1630.75,445.5L1605.75,472.5" stroke="#0d0d0d" stroke-width="9" fill="none"/>
<polygon points="1577.0,433.5 1585.9,433.5 1585.9,482.0 1574.5,482.0 1574.5,448.0 1562.2,453.0 1562.2,444.0 1571.0,437.5"/>
<polygon points="1661.5,433.5 1670.4,433.5 1670.4,482.0 1659.0,482.0 1659.0,448.0 1646.8,453.0 1646.8,444.0 1655.5,437.5"/>
<path d="M1606.75,620.5L1631.75,647.5M1631.75,620.5L1606.75,647.5" stroke="#0d0d0d" stroke-width="9" fill="none"/>
<polygon points="1578.0,608.5 1586.9,608.5 1586.9,657.0 1575.5,657.0 1575.5,623.0 1563.2,628.0 1563.2,619.0 1572.0,612.5"/>
<polygon points="1662.5,608.5 1671.4,608.5 1671.4,657.0 1660.0,657.0 1660.0,623.0 1647.8,628.0 1647.8,619.0 1656.5,612.5"/>
<rect x="1616" y="528.0" width="8" height="8"/>
<rect x="1616" y="546.7" width="8" height="8"/>
<rect x="1616" y="565.4" width="8" height="8"/>
<text x="1378.0" y="764.0" font-size="75" text-anchor="middle" class="t" stroke="#FFAEB2" stroke-width="2">3</text>
<text x="1462.3" y="764.0" font-size="75" text-anchor="middle" class="t" stroke="#FFAEB2" stroke-width="2">3</text>
<path d="M1405.0,725.5L1432.0,752.5M1432.0,725.5L1405.0,752.5" stroke="#0d0d0d" stroke-width="9" fill="none"/>
<path d="M1606.75,725.5L1631.75,752.5M1631.75,725.5L1606.75,752.5" stroke="#0d0d0d" stroke-width="9" fill="none"/>
<polygon points="1578.0,713.5 1586.9,713.5 1586.9,762.0 1575.5,762.0 1575.5,728.0 1563.2,733.0 1563.2,724.0 1572.0,717.5"/>
<polygon points="1662.5,713.5 1671.4,713.5 1671.4,762.0 1660.0,762.0 1660.0,728.0 1647.8,733.0 1647.8,724.0 1656.5,717.5"/>
<text x="1378.0" y="869.0" font-size="75" text-anchor="middle" class="t" stroke="#FFAEB2" stroke-width="2">3</text>
<text x="1462.3" y="869.0" font-size="75" text-anchor="middle" class="t" stroke="#FFAEB2" stroke-width="2">3</text>
<path d="M1405.0,830.5L1432.0,857.5M1432.0,830.5L1405.0,857.5" stroke="#0d0d0d" stroke-width="9" fill="none"/>
<path d="M1606.75,830.5L1631.75,857.5M1631.75,830.5L1606.75,857.5" stroke="#0d0d0d" stroke-width="9" fill="none"/>
<polygon points="1578.0,818.5 1586.9,818.5 1586.9,867.0 1575.5,867.0 1575.5,833.0 1563.2,838.0 1563.2,829.0 1572.0,822.5"/>
<polygon points="1662.5,818.5 1671.4,818.5 1671.4,867.0 1660.0,867.0 1660.0,833.0 1647.8,838.0 1647.8,829.0 1656.5,822.5"/>
<text x="1378.0" y="975.0" font-size="75" text-anchor="middle" class="t" stroke="#FFAEB2" stroke-width="2">3</text>
<text x="1462.3" y="975.0" font-size="75" text-anchor="middle" class="t" stroke="#FFAEB2" stroke-width="2">3</text>
<path d="M1405.0,936.5L1432.0,963.5M1432.0,936.5L1405.0,963.5" stroke="#0d0d0d" stroke-width="9" fill="none"/>
<path d="M1606.75,936.5L1631.75,963.5M1631.75,936.5L1606.75,963.5" stroke="#0d0d0d" stroke-width="9" fill="none"/>
<polygon points="1578.0,924.5 1586.9,924.5 1586.9,973.0 1575.5,973.0 1575.5,939.0 1563.2,944.0 1563.2,935.0 1572.0,928.5"/>
<polygon points="1662.5,924.5 1671.4,924.5 1671.4,973.0 1660.0,973.0 1660.0,939.0 1647.8,944.0 1647.8,935.0 1656.5,928.5"/>
<text x="1378.0" y="1150.0" font-size="75" text-anchor="middle" class="t" stroke="#FFAEB2" stroke-width="2">3</text>
<text x="1462.3" y="1150.0" font-size="75" text-anchor="middle" class="t" stroke="#FFAEB2" stroke-width="2">3</text>
<path d="M1405.0,1111.5L1432.0,1138.5M1432.0,1111.5L1405.0,1138.5" stroke="#0d0d0d" stroke-width="9" fill="none"/>
<path d="M1606.75,1111.5L1631.75,1138.5M1631.75,1111.5L1606.75,1138.5" stroke="#0d0d0d" stroke-width="9" fill="none"/>
<polygon points="1578.0,1099.5 1586.9,1099.5 1586.9,1148.0 1575.5,1148.0 1575.5,1114.0 1563.2,1119.0 1563.2,1110.0 1572.0,1103.5"/>
<polygon points="1662.5,1099.5 1671.4,1099.5 1671.4,1148.0 1660.0,1148.0 1660.0,1114.0 1647.8,1119.0 1647.8,1110.0 1656.5,1103.5"/>
<rect x="1520" y="1021.0" width="8" height="8"/>
<rect x="1520" y="1039.7" width="8" height="8"/>
<rect x="1520" y="1058.4" width="8" height="8"/>
<path d="M1607.0,1250.5L1632.0,1277.5M1632.0,1250.5L1607.0,1277.5" stroke="#0d0d0d" stroke-width="9" fill="none"/>
<polygon points="1578.2,1238.5 1587.1,1238.5 1587.1,1287.0 1575.7,1287.0 1575.7,1253.0 1563.5,1258.0 1563.5,1249.0 1572.2,1242.5"/>
<polygon points="1662.7,1238.5 1671.6,1238.5 1671.6,1287.0 1660.2,1287.0 1660.2,1253.0 1648.0,1258.0 1648.0,1249.0 1656.7,1242.5"/>
<path d="M1607.0,1426.5L1632.0,1453.5M1632.0,1426.5L1607.0,1453.5" stroke="#0d0d0d" stroke-width="9" fill="none"/>
<polygon points="1578.2,1414.5 1587.1,1414.5 1587.1,1463.0 1575.7,1463.0 1575.7,1429.0 1563.5,1434.0 1563.5,1425.0 1572.2,1418.5"/>
<polygon points="1662.7,1414.5 1671.6,1414.5 1671.6,1463.0 1660.2,1463.0 1660.2,1429.0 1648.0,1434.0 1648.0,1425.0 1656.7,1418.5"/>
<path d="M1607.0,1531.5L1632.0,1558.5M1632.0,1531.5L1607.0,1558.5" stroke="#0d0d0d" stroke-width="9" fill="none"/>
<polygon points="1578.2,1519.5 1587.1,1519.5 1587.1,1568.0 1575.7,1568.0 1575.7,1534.0 1563.5,1539.0 1563.5,1530.0 1572.2,1523.5"/>
<polygon points="1662.7,1519.5 1671.6,1519.5 1671.6,1568.0 1660.2,1568.0 1660.2,1534.0 1648.0,1539.0 1648.0,1530.0 1656.7,1523.5"/>
<rect x="1618" y="1333.0" width="8" height="8"/>
<rect x="1618" y="1351.7" width="8" height="8"/>
<rect x="1618" y="1370.4" width="8" height="8"/>
<path d="M2244.75,233.5L2269.75,260.5M2269.75,233.5L2244.75,260.5" stroke="#0d0d0d" stroke-width="9" fill="none"/>
<polygon points="2215.9,221.5 2224.8,221.5 2224.8,270.0 2213.4,270.0 2213.4,236.0 2201.2,241.0 2201.2,232.0 2209.9,225.5"/>
<polygon points="2300.4,221.5 2309.3,221.5 2309.3,270.0 2297.9,270.0 2297.9,236.0 2285.8,241.0 2285.8,232.0 2294.4,225.5"/>
<path d="M2244.75,339.5L2269.75,366.5M2269.75,339.5L2244.75,366.5" stroke="#0d0d0d" stroke-width="9" fill="none"/>
<polygon points="2215.9,327.5 2224.8,327.5 2224.8,376.0 2213.4,376.0 2213.4,342.0 2201.2,347.0 2201.2,338.0 2209.9,331.5"/>
<polygon points="2300.4,327.5 2309.3,327.5 2309.3,376.0 2297.9,376.0 2297.9,342.0 2285.8,347.0 2285.8,338.0 2294.4,331.5"/>
<path d="M2244.75,445.5L2269.75,472.5M2269.75,445.5L2244.75,472.5" stroke="#0d0d0d" stroke-width="9" fill="none"/>
<polygon points="2215.9,433.5 2224.8,433.5 2224.8,482.0 2213.4,482.0 2213.4,448.0 2201.2,453.0 2201.2,444.0 2209.9,437.5"/>
<polygon points="2300.4,433.5 2309.3,433.5 2309.3,482.0 2297.9,482.0 2297.9,448.0 2285.8,453.0 2285.8,444.0 2294.4,437.5"/>
<path d="M2248.25,620.5L2273.25,647.5M2273.25,620.5L2248.25,647.5" stroke="#0d0d0d" stroke-width="9" fill="none"/>
<polygon points="2219.4,608.5 2228.3,608.5 2228.3,657.0 2216.9,657.0 2216.9,623.0 2204.8,628.0 2204.8,619.0 2213.4,612.5"/>
<polygon points="2303.9,608.5 2312.8,608.5 2312.8,657.0 2301.4,657.0 2301.4,623.0 2289.2,628.0 2289.2,619.0 2297.9,612.5"/>
<rect x="2265" y="528.0" width="8" height="8"/>
<rect x="2265" y="546.7" width="8" height="8"/>
<rect x="2265" y="565.4" width="8" height="8"/>
<text x="2020.5" y="764.0" font-size="75" text-anchor="middle" class="t" stroke="#FFAEB2" stroke-width="2">3</text>
<text x="2104.8" y="764.0" font-size="75" text-anchor="middle" class="t" stroke="#FFAEB2" stroke-width="2">3</text>
<path d="M2047.5,725.5L2074.5,752.5M2074.5,725.5L2047.5,752.5" stroke="#0d0d0d" stroke-width="9" fill="none"/>
<path d="M2248.0,725.5L2273.0,752.5M2273.0,725.5L2248.0,752.5" stroke="#0d0d0d" stroke-width="9" fill="none"/>
<polygon points="2219.2,713.5 2228.1,713.5 2228.1,762.0 2216.7,762.0 2216.7,728.0 2204.5,733.0 2204.5,724.0 2213.2,717.5"/>
<polygon points="2303.7,713.5 2312.6,713.5 2312.6,762.0 2301.2,762.0 2301.2,728.0 2289.0,733.0 2289.0,724.0 2297.7,717.5"/>
<text x="2020.5" y="869.0" font-size="75" text-anchor="middle" class="t" stroke="#FFAEB2" stroke-width="2">3</text>
<text x="2104.8" y="869.0" font-size="75" text-anchor="middle" class="t" stroke="#FFAEB2" stroke-width="2">3</text>
<path d="M2047.5,830.5L2074.5,857.5M2074.5,830.5L2047.5,857.5" stroke="#0d0d0d" stroke-width="9" fill="none"/>
<path d="M2248.0,830.5L2273.0,857.5M2273.0,830.5L2248.0,857.5" stroke="#0d0d0d" stroke-width="9" fill="none"/>
<polygon points="2219.2,818.5 2228.1,818.5 2228.1,867.0 2216.7,867.0 2216.7,833.0 2204.5,838.0 2204.5,829.0 2213.2,822.5"/>
<polygon points="2303.7,818.5 2312.6,818.5 2312.6,867.0 2301.2,867.0 2301.2,833.0 2289.0,838.0 2289.0,829.0 2297.7,822.5"/>
<text x="2020.5" y="975.0" font-size="75" text-anchor="middle" class="t" stroke="#FFAEB2" stroke-width="2">3</text>
<text x="2104.8" y="975.0" font-size="75" text-anchor="middle" class="t" stroke="#FFAEB2" stroke-width="2">3</text>
<path d="M2047.5,936.5L2074.5,963.5M2074.5,936.5L2047.5,963.5" stroke="#0d0d0d" stroke-width="9" fill="none"/>
<path d="M2248.0,936.5L2273.0,963.5M2273.0,936.5L2248.0,963.5" stroke="#0d0d0d" stroke-width="9" fill="none"/>
<polygon points="2219.2,924.5 2228.1,924.5 2228.1,973.0 2216.7,973.0 2216.7,939.0 2204.5,944.0 2204.5,935.0 2213.2,928.5"/>
<polygon points="2303.7,924.5 2312.6,924.5 2312.6,973.0 2301.2,973.0 2301.2,939.0 2289.0,944.0 2289.0,935.0 2297.7,928.5"/>
<text x="2020.5" y="1150.0" font-size="75" text-anchor="middle" class="t" stroke="#FFAEB2" stroke-width="2">3</text>
<text x="2104.8" y="1150.0" font-size="75" text-anchor="middle" class="t" stroke="#FFAEB2" stroke-width="2">3</text>
<path d="M2047.5,1111.5L2074.5,1138.5M2074.5,1111.5L2047.5,1138.5" stroke="#0d0d0d" stroke-width="9" fill="none"/>
<path d="M2248.0,1111.5L2273.0,1138.5M2273.0,1111.5L2248.0,1138.5" stroke="#0d0d0d" stroke-width="9" fill="none"/>
<polygon points="2219.2,1099.5 2228.1,1099.5 2228.1,1148.0 2216.7,1148.0 2216.7,1114.0 2204.5,1119.0 2204.5,1110.0 2213.2,1103.5"/>
<polygon points="2303.7,1099.5 2312.6,1099.5 2312.6,1148.0 2301.2,1148.0 2301.2,1114.0 2289.0,1119.0 2289.0,1110.0 2297.7,1103.5"/>
<rect x="2162" y="1021.0" width="8" height="8"/>
<rect x="2162" y="1039.7" width="8" height="8"/>
<rect x="2162" y="1058.4" width="8" height="8"/>
<path d="M2249.25,1250.5L2274.25,1277.5M2274.25,1250.5L2249.25,1277.5" stroke="#0d0d0d" stroke-width="9" fill="none"/>
<polygon points="2220.4,1238.5 2229.3,1238.5 2229.3,1287.0 2217.9,1287.0 2217.9,1253.0 2205.8,1258.0 2205.8,1249.0 2214.4,1242.5"/>
<polygon points="2304.9,1238.5 2313.8,1238.5 2313.8,1287.0 2302.4,1287.0 2302.4,1253.0 2290.2,1258.0 2290.2,1249.0 2298.9,1242.5"/>
<path d="M2249.25,1426.5L2274.25,1453.5M2274.25,1426.5L2249.25,1453.5" stroke="#0d0d0d" stroke-width="9" fill="none"/>
<polygon points="2220.4,1414.5 2229.3,1414.5 2229.3,1463.0 2217.9,1463.0 2217.9,1429.0 2205.8,1434.0 2205.8,1425.0 2214.4,1418.5"/>
<polygon points="2304.9,1414.5 2313.8,1414.5 2313.8,1463.0 2302.4,1463.0 2302.4,1429.0 2290.2,1434.0 2290.2,1425.0 2298.9,1418.5"/>
<path d="M2249.25,1531.5L2274.25,1558.5M2274.25,1531.5L2249.25,1558.5" stroke="#0d0d0d" stroke-width="9" fill="none"/>
<polygon points="2220.4,1519.5 2229.3,1519.5 2229.3,1568.0 2217.9,1568.0 2217.9,1534.0 2205.8,1539.0 2205.8,1530.0 2214.4,1523.5"/>
<polygon points="2304.9,1519.5 2313.8,1519.5 2313.8,1568.0 2302.4,1568.0 2302.4,1534.0 2290.2,1539.0 2290.2,1530.0 2298.9,1523.5"/>
<rect x="2262" y="1333.0" width="8" height="8"/>
<rect x="2262" y="1351.7" width="8" height="8"/>
<rect x="2262" y="1370.4" width="8" height="8"/>
<path d="M2762.0,233.5L2787.0,260.5M2787.0,233.5L2762.0,260.5" stroke="#0d0d0d" stroke-width="9" fill="none"/>
<polygon points="2733.2,221.5 2742.1,221.5 2742.1,270.0 2730.7,270.0 2730.7,236.0 2718.5,241.0 2718.5,232.0 2727.2,225.5"/>
<polygon points="2817.7,221.5 2826.6,221.5 2826.6,270.0 2815.2,270.0 2815.2,236.0 2803.0,241.0 2803.0,232.0 2811.7,225.5"/>
<path d="M2762.0,338.5L2787.0,365.5M2787.0,338.5L2762.0,365.5" stroke="#0d0d0d" stroke-width="9" fill="none"/>
<polygon points="2733.2,326.5 2742.1,326.5 2742.1,375.0 2730.7,375.0 2730.7,341.0 2718.5,346.0 2718.5,337.0 2727.2,330.5"/>
<polygon points="2817.7,326.5 2826.6,326.5 2826.6,375.0 2815.2,375.0 2815.2,341.0 2803.0,346.0 2803.0,337.0 2811.7,330.5"/>
<path d="M2762.0,445.5L2787.0,472.5M2787.0,445.5L2762.0,472.5" stroke="#0d0d0d" stroke-width="9" fill="none"/>
<polygon points="2733.2,433.5 2742.1,433.5 2742.1,482.0 2730.7,482.0 2730.7,448.0 2718.5,453.0 2718.5,444.0 2727.2,437.5"/>
<polygon points="2817.7,433.5 2826.6,433.5 2826.6,482.0 2815.2,482.0 2815.2,448.0 2803.0,453.0 2803.0,444.0 2811.7,437.5"/>
<path d="M2762.0,549.5L2787.0,576.5M2787.0,549.5L2762.0,576.5" stroke="#0d0d0d" stroke-width="9" fill="none"/>
<polygon points="2733.2,537.5 2742.1,537.5 2742.1,586.0 2730.7,586.0 2730.7,552.0 2718.5,557.0 2718.5,548.0 2727.2,541.5"/>
<polygon points="2817.7,537.5 2826.6,537.5 2826.6,586.0 2815.2,586.0 2815.2,552.0 2803.0,557.0 2803.0,548.0 2811.7,541.5"/>
<path d="M2762.0,725.5L2787.0,752.5M2787.0,725.5L2762.0,752.5" stroke="#0d0d0d" stroke-width="9" fill="none"/>
<polygon points="2733.2,713.5 2742.1,713.5 2742.1,762.0 2730.7,762.0 2730.7,728.0 2718.5,733.0 2718.5,724.0 2727.2,717.5"/>
<polygon points="2817.7,713.5 2826.6,713.5 2826.6,762.0 2815.2,762.0 2815.2,728.0 2803.0,733.0 2803.0,724.0 2811.7,717.5"/>
<path d="M2762.0,830.5L2787.0,857.5M2787.0,830.5L2762.0,857.5" stroke="#0d0d0d" stroke-width="9" fill="none"/>
<polygon points="2733.2,818.5 2742.1,818.5 2742.1,867.0 2730.7,867.0 2730.7,833.0 2718.5,838.0 2718.5,829.0 2727.2,822.5"/>
<polygon points="2817.7,818.5 2826.6,818.5 2826.6,867.0 2815.2,867.0 2815.2,833.0 2803.0,838.0 2803.0,829.0 2811.7,822.5"/>
<path d="M2762.0,937.5L2787.0,964.5M2787.0,937.5L2762.0,964.5" stroke="#0d0d0d" stroke-width="9" fill="none"/>
<polygon points="2733.2,925.5 2742.1,925.5 2742.1,974.0 2730.7,974.0 2730.7,940.0 2718.5,945.0 2718.5,936.0 2727.2,929.5"/>
<polygon points="2817.7,925.5 2826.6,925.5 2826.6,974.0 2815.2,974.0 2815.2,940.0 2803.0,945.0 2803.0,936.0 2811.7,929.5"/>
<path d="M2762.0,1041.5L2787.0,1068.5M2787.0,1041.5L2762.0,1068.5" stroke="#0d0d0d" stroke-width="9" fill="none"/>
<polygon points="2733.2,1029.5 2742.1,1029.5 2742.1,1078.0 2730.7,1078.0 2730.7,1044.0 2718.5,1049.0 2718.5,1040.0 2727.2,1033.5"/>
<polygon points="2817.7,1029.5 2826.6,1029.5 2826.6,1078.0 2815.2,1078.0 2815.2,1044.0 2803.0,1049.0 2803.0,1040.0 2811.7,1033.5"/>
<rect x="2773" y="630.0" width="8" height="8"/>
<rect x="2773" y="648.7" width="8" height="8"/>
<rect x="2773" y="667.4" width="8" height="8"/>
<text x="2533.5" y="1181.0" font-size="75" text-anchor="middle" class="t" stroke="#FFAEB2" stroke-width="2">3</text>
<text x="2617.8" y="1181.0" font-size="75" text-anchor="middle" class="t" stroke="#FFAEB2" stroke-width="2">3</text>
<path d="M2560.5,1142.5L2587.5,1169.5M2587.5,1142.5L2560.5,1169.5" stroke="#0d0d0d" stroke-width="9" fill="none"/>
<path d="M2762.0,1142.5L2787.0,1169.5M2787.0,1142.5L2762.0,1169.5" stroke="#0d0d0d" stroke-width="9" fill="none"/>
<polygon points="2733.2,1130.5 2742.1,1130.5 2742.1,1179.0 2730.7,1179.0 2730.7,1145.0 2718.5,1150.0 2718.5,1141.0 2727.2,1134.5"/>
<polygon points="2817.7,1130.5 2826.6,1130.5 2826.6,1179.0 2815.2,1179.0 2815.2,1145.0 2803.0,1150.0 2803.0,1141.0 2811.7,1134.5"/>
<text x="2533.5" y="1289.0" font-size="75" text-anchor="middle" class="t" stroke="#FFAEB2" stroke-width="2">3</text>
<text x="2617.8" y="1289.0" font-size="75" text-anchor="middle" class="t" stroke="#FFAEB2" stroke-width="2">3</text>
<path d="M2560.5,1250.5L2587.5,1277.5M2587.5,1250.5L2560.5,1277.5" stroke="#0d0d0d" stroke-width="9" fill="none"/>
<path d="M2762.0,1250.5L2787.0,1277.5M2787.0,1250.5L2762.0,1277.5" stroke="#0d0d0d" stroke-width="9" fill="none"/>
<polygon points="2733.2,1238.5 2742.1,1238.5 2742.1,1287.0 2730.7,1287.0 2730.7,1253.0 2718.5,1258.0 2718.5,1249.0 2727.2,1242.5"/>
<polygon points="2817.7,1238.5 2826.6,1238.5 2826.6,1287.0 2815.2,1287.0 2815.2,1253.0 2803.0,1258.0 2803.0,1249.0 2811.7,1242.5"/>
<text x="2533.5" y="1393.0" font-size="75" text-anchor="middle" class="t" stroke="#FFAEB2" stroke-width="2">3</text>
<text x="2617.8" y="1393.0" font-size="75" text-anchor="middle" class="t" stroke="#FFAEB2" stroke-width="2">3</text>
<path d="M2560.5,1354.5L2587.5,1381.5M2587.5,1354.5L2560.5,1381.5" stroke="#0d0d0d" stroke-width="9" fill="none"/>
<path d="M2762.0,1354.5L2787.0,1381.5M2787.0,1354.5L2762.0,1381.5" stroke="#0d0d0d" stroke-width="9" fill="none"/>
<polygon points="2733.2,1342.5 2742.1,1342.5 2742.1,1391.0 2730.7,1391.0 2730.7,1357.0 2718.5,1362.0 2718.5,1353.0 2727.2,1346.5"/>
<polygon points="2817.7,1342.5 2826.6,1342.5 2826.6,1391.0 2815.2,1391.0 2815.2,1357.0 2803.0,1362.0 2803.0,1353.0 2811.7,1346.5"/>
<text x="2533.5" y="1569.0" font-size="75" text-anchor="middle" class="t" stroke="#FFAEB2" stroke-width="2">3</text>
<text x="2617.8" y="1569.0" font-size="75" text-anchor="middle" class="t" stroke="#FFAEB2" stroke-width="2">3</text>
<path d="M2560.5,1530.5L2587.5,1557.5M2587.5,1530.5L2560.5,1557.5" stroke="#0d0d0d" stroke-width="9" fill="none"/>
<path d="M2762.0,1530.5L2787.0,1557.5M2787.0,1530.5L2762.0,1557.5" stroke="#0d0d0d" stroke-width="9" fill="none"/>
<polygon points="2733.2,1518.5 2742.1,1518.5 2742.1,1567.0 2730.7,1567.0 2730.7,1533.0 2718.5,1538.0 2718.5,1529.0 2727.2,1522.5"/>
<polygon points="2817.7,1518.5 2826.6,1518.5 2826.6,1567.0 2815.2,1567.0 2815.2,1533.0 2803.0,1538.0 2803.0,1529.0 2811.7,1522.5"/>
<rect x="2672" y="1438.0" width="8" height="8"/>
<rect x="2672" y="1456.7" width="8" height="8"/>
<rect x="2672" y="1475.4" width="8" height="8"/>
<rect x="739" y="957" width="8" height="8"/>
<rect x="759" y="957" width="8" height="8"/>
<rect x="779" y="957" width="8" height="8"/>
<rect x="2381" y="544" width="8" height="8"/>
<rect x="2401" y="544" width="8" height="8"/>
<rect x="2421" y="544" width="8" height="8"/>
<rect x="1844.5" y="838" width="8" height="8"/>
<rect x="1864.5" y="838" width="8" height="8"/>
<rect x="1884.5" y="838" width="8" height="8"/>
<rect x="2381" y="1108" width="8" height="8"/>
<rect x="2401" y="1108" width="8" height="8"/>
<rect x="2421" y="1108" width="8" height="8"/>
<line x1="306" y1="37.5" x2="1588" y2="37.5" stroke="#0d0d0d" stroke-width="6"/>
<line x1="1632" y1="37.5" x2="2914" y2="37.5" stroke="#0d0d0d" stroke-width="6"/>
<polyline points="344,19.5 308.5,37.5 344,55.5" fill="none" stroke="#0d0d0d" stroke-width="4.2"/>
<polyline points="2876,19.5 2911.5,37.5 2876,55.5" fill="none" stroke="#0d0d0d" stroke-width="4.2"/>
<line x1="306" y1="159" x2="710.5" y2="159" stroke="#0d0d0d" stroke-width="5"/>
<line x1="827" y1="159" x2="1234" y2="159" stroke="#0d0d0d" stroke-width="5"/>
<polyline points="344,141 308.5,159 344,177" fill="none" stroke="#0d0d0d" stroke-width="4.2"/>
<polyline points="1196,141 1231.5,159 1196,177" fill="none" stroke="#0d0d0d" stroke-width="4.2"/>
<line x1="1285" y1="159" x2="1759" y2="159" stroke="#0d0d0d" stroke-width="5"/>
<line x1="1877" y1="159" x2="2349" y2="159" stroke="#0d0d0d" stroke-width="5"/>
<polyline points="1323,141 1287.5,159 1323,177" fill="none" stroke="#0d0d0d" stroke-width="4.2"/>
<polyline points="2311,141 2346.5,159 2311,177" fill="none" stroke="#0d0d0d" stroke-width="4.2"/>
<line x1="42" y1="209" x2="42" y2="860" stroke="#0d0d0d" stroke-width="6.5"/>
<line x1="42" y1="932" x2="42" y2="1585" stroke="#0d0d0d" stroke-width="6.5"/>
<polyline points="24,245 42,211.5 60,245" fill="none" stroke="#0d0d0d" stroke-width="4.2"/>
<polyline points="24,1549 42,1582.5 60,1549" fill="none" stroke="#0d0d0d" stroke-width="4.2"/>
<line x1="254" y1="209" x2="254" y2="670" stroke="#0d0d0d" stroke-width="8"/>
<polyline points="236,245 254,211.5 272,245" fill="none" stroke="#0d0d0d" stroke-width="4.2"/>
<polyline points="236,634 254,667.5 272,634" fill="none" stroke="#0d0d0d" stroke-width="4.2"/>
<line x1="458" y1="702" x2="458" y2="1585" stroke="#0d0d0d" stroke-width="8"/>
<polyline points="440,738 458,704.5 476,738" fill="none" stroke="#0d0d0d" stroke-width="4.2"/>
<polyline points="440,1549 458,1582.5 476,1549" fill="none" stroke="#0d0d0d" stroke-width="4.2"/>
<line x1="1752" y1="209" x2="1752" y2="669" stroke="#0d0d0d" stroke-width="8"/>
<polyline points="1734,245 1752,211.5 1770,245" fill="none" stroke="#0d0d0d" stroke-width="4.2"/>
<polyline points="1734,633 1752,666.5 1770,633" fill="none" stroke="#0d0d0d" stroke-width="4.2"/>
<line x1="1752" y1="702" x2="1752" y2="1163" stroke="#0d0d0d" stroke-width="8"/>
<polyline points="1734,738 1752,704.5 1770,738" fill="none" stroke="#0d0d0d" stroke-width="4.2"/>
<polyline points="1734,1127 1752,1160.5 1770,1127" fill="none" stroke="#0d0d0d" stroke-width="4.2"/>
<line x1="1751" y1="1227" x2="1751" y2="1585" stroke="#0d0d0d" stroke-width="6"/>
<polyline points="1733,1263 1751,1229.5 1769,1263" fill="none" stroke="#0d0d0d" stroke-width="4.2"/>
<polyline points="1733,1549 1751,1582.5 1769,1549" fill="none" stroke="#0d0d0d" stroke-width="4.2"/>
<line x1="2907" y1="209" x2="2907" y2="1094" stroke="#0d0d0d" stroke-width="6"/>
<polyline points="2889,245 2907,211.5 2925,245" fill="none" stroke="#0d0d0d" stroke-width="4.2"/>
<polyline points="2889,1058 2907,1091.5 2925,1058" fill="none" stroke="#0d0d0d" stroke-width="4.2"/>
<line x1="2907" y1="1116" x2="2907" y2="1579" stroke="#0d0d0d" stroke-width="6"/>
<polyline points="2889,1152 2907,1118.5 2925,1152" fill="none" stroke="#0d0d0d" stroke-width="4.2"/>
<polyline points="2889,1543 2907,1576.5 2925,1543" fill="none" stroke="#0d0d0d" stroke-width="4.2"/>
<text x="0" y="0" font-size="59.13" class="t" transform="translate(1587.7,59.3) scale(1.0497,1)">N</text>
<text x="0" y="0" font-size="63.77" class="t" transform="translate(712.5,181.5) scale(1.0074,1)">N/G</text>
<text x="0" y="0" font-size="64.49" class="t" transform="translate(1759.4,181.5) scale(1.0149,1)">N/G</text>
<text x="0" y="0" font-size="58.70" class="t" transform="translate(15.4,918.5) scale(1.1147,1)">M</text>
<text x="0" y="0" font-size="64.06" class="t" transform="translate(97.4,464.7) scale(1.0262,1)">M/G</text>
<text x="0" y="0" font-size="63.77" class="t" transform="translate(1775.9,465.5) scale(1.0318,1)">M/G</text>
<text x="0" y="0" font-size="63.04" class="t" transform="translate(1775.9,955.5) scale(1.0437,1)">M/G</text>
<text x="0" y="0" font-size="63.77" class="t" transform="translate(2929.7,1374) scale(1.0327,1)">M/G</text>
<text x="0" y="0" font-size="60.14" class="t" transform="translate(203.5,1165.5) scale(1.0796,1)">M-M/G</text>
<text x="0" y="0" font-size="60.87" class="t" transform="translate(2961.7,674) scale(1.0842,1)">M-M/G</text>
<text x="0" y="0" font-size="63.04" class="t" transform="translate(1787.4,1429.5) scale(1.0402,1)">M-2M/G</text>
</g>
</svg></body></html>
